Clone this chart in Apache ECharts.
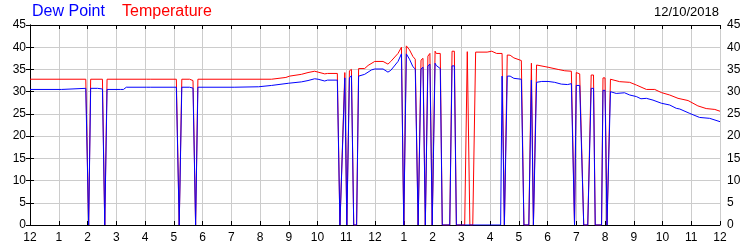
<!DOCTYPE html>
<html>
<head>
<meta charset="utf-8">
<script src="https://cdn.jsdelivr.net/npm/echarts@6/dist/echarts.min.js"></script>
<style>html,body{margin:0;padding:0;background:#fff}#c{width:750px;height:250px}</style>
</head>
<body>
<div id="c"></div>
<script>
// x values are hours after midnight (0..24)
var hourLabels = ['12','1','2','3','4','5','6','7','8','9','10','11','12','1','2','3','4','5','6','7','8','9','10','11','12'];
var yTicks = [0,5,10,15,20,25,30,35,40,45];
var dateText = '12/10/2018';

var temperature = [
[0,32.8],[1.94,32.8],[2.04,0],[2.11,32.8],[2.52,32.8],[2.60,0],[2.68,32.8],[4.05,32.8],[4.1,32.6],[4.2,32.8],
[5.09,32.8],[5.19,0],[5.28,32.8],[5.55,32.8],[5.58,32.5],[5.67,32.5],[5.76,0],[5.84,32.8],[8.4,32.8],[8.45,33.2],
[8.9,33.2],[9.03,33.5],[9.44,33.9],[9.67,34.3],[9.9,34.6],[10.02,34.4],[10.25,34.0],[10.35,34.1],[10.69,34.1],[10.78,0],
[10.95,34.3],[11.02,0],[11.11,34.7],[11.18,35.0],[11.26,0],[11.36,0],[11.43,35.2],[11.64,35.2],[11.76,35.9],[11.99,36.8],
[12.28,36.8],[12.45,36.2],[12.55,36.8],[12.8,38.6],[12.92,40.0],[13.0,0],[13.09,40.3],[13.2,39.4],[13.32,37.9],[13.4,37.3],
[13.5,0],[13.6,37.1],[13.67,37.5],[13.75,0],[13.84,38.0],[13.91,38.6],[13.99,0],[14.09,39.1],[14.13,38.6],[14.27,38.6],
[14.34,0],[14.6,0],[14.68,39.1],[14.76,39.1],[14.83,0],[15.12,0],[15.21,39.0],[15.3,0],[15.4,0],[15.5,38.9],
[15.9,38.9],[16.06,39.1],[16.23,38.6],[16.42,38.6],[16.5,0],[16.6,38.25],[16.7,38.2],[16.83,37.6],[17.09,37.0],[17.18,0],
[17.35,0],[17.44,36.4],[17.51,0],[17.62,36.0],[18.02,35.5],[18.37,35.0],[18.6,34.7],[18.83,34.6],[18.94,0],[19.0,34.3],
[19.12,34.0],[19.26,0],[19.4,0],[19.52,33.75],[19.6,33.75],[19.66,0],[19.88,0],[19.93,33.1],[20.0,33.1],[20.07,0],
[20.19,32.8],[20.51,32.25],[20.86,32.1],[21.09,31.5],[21.44,30.5],[21.73,30.5],[21.96,29.8],[22.25,29.25],[22.54,28.5],[22.89,28.0],
[23.23,26.8],[23.52,26.2],[23.82,26.0],[24,25.6]
];

var dewPoint = [
[0,30.5],[1.1,30.5],[1.15,30.75],[1.94,30.75],[2.04,0],[2.11,30.75],[2.35,30.75],[2.4,30.6],[2.52,30.6],[2.60,0],
[2.68,30.5],[3.15,30.5],[3.2,30.8],[3.25,30.5],[3.3,30.6],[3.35,31.0],[4.05,31.0],[4.1,30.8],[4.2,31.0],[5.09,31.0],
[5.19,0],[5.28,31.0],[5.55,31.0],[5.58,30.8],[5.67,30.8],[5.76,0],[5.84,31.0],[7.1,31.0],[7.15,31.1],[7.95,31.1],
[8.0,31.3],[8.4,31.4],[9.0,31.9],[9.44,32.2],[9.67,32.5],[9.9,32.9],[10.02,32.8],[10.25,32.4],[10.35,32.6],[10.69,32.6],
[10.78,0],[10.95,33.1],[11.02,0],[11.11,33.1],[11.18,33.6],[11.26,0],[11.36,0],[11.43,33.5],[11.64,33.9],[11.88,34.9],
[11.99,35.1],[12.28,35.1],[12.45,34.4],[12.55,34.8],[12.8,36.8],[12.92,38.5],[13.0,0],[13.09,38.5],[13.2,37.3],[13.32,35.6],
[13.4,35.1],[13.5,0],[13.6,35.1],[13.67,35.5],[13.75,0],[13.84,35.8],[13.91,36.2],[13.99,0],[14.09,36.4],[14.13,35.9],
[14.27,35.2],[14.34,0],[14.6,0],[14.68,35.8],[14.76,35.8],[14.83,0],[16.37,0],[16.42,33.5],[16.5,0],[16.6,33.5],
[16.7,33.5],[16.83,33.0],[17.09,32.8],[17.18,0],[17.35,0],[17.44,32.6],[17.51,0],[17.62,32.1],[17.8,32.3],[18.02,32.3],
[18.25,32.1],[18.48,31.7],[18.7,31.6],[18.83,31.8],[18.94,0],[19.0,31.4],[19.12,31.4],[19.26,0],[19.4,0],[19.52,30.75],
[19.6,30.75],[19.66,0],[19.88,0],[19.93,30.3],[20.0,30.3],[20.07,0],[20.19,30.0],[20.39,29.6],[20.68,29.75],[20.86,29.25],
[21.09,28.9],[21.25,28.4],[21.44,28.5],[21.67,28.1],[21.96,27.4],[22.25,27.0],[22.48,26.25],[22.6,26.1],[22.95,25.1],[23.29,24.2],
[23.64,24.0],[24,23.25]
];

var FONT = '"Liberation Sans", Arial, sans-serif';
var chart = echarts.init(document.getElementById('c'), null, {renderer:'canvas'});
var gridColor = '#cccccc';
function yAxis(pos){
  return {
    type:'value', position:pos, min:yTicks[0], max:yTicks[yTicks.length-1], interval:5,
    axisLine:{show:true, lineStyle:{color:'#000', width:1}},
    axisTick:{show:true, inside:true, length:4, lineStyle:{color:'#000'}},
    axisLabel:{show:true, color:'#000', fontSize:12, fontFamily:FONT, margin:(pos==='left'?4:7)},
    splitLine:{show:pos==='left', lineStyle:{color:gridColor, width:1}}
  };
}
function xAxis(pos){
  return {
    type:'value', position:pos, min:0, max:24, interval:1,
    axisLine:{show:true, onZero:false, lineStyle:{color:'#000', width:1}},
    axisTick:{show:true, inside:true, length:4, lineStyle:{color:'#000'}},
    axisLabel:{show:pos==='bottom', color:'#000', fontSize:12, fontFamily:FONT, margin:7,
      formatter:function(v){ return hourLabels[Math.round(v)]; }},
    splitLine:{show:pos==='bottom', lineStyle:{color:gridColor, width:1}}
  };
}
chart.setOption({
  animation:false,
  backgroundColor:'#fff',
  title:[
    {text:'Dew Point', left:32, top:4, padding:0, textStyle:{color:'#0000ff', fontSize:16, fontWeight:'normal', fontFamily:FONT}},
    {text:'Temperature', left:122, top:4, padding:0, textStyle:{color:'#ff0000', fontSize:16, fontWeight:'normal', fontFamily:FONT}},
    {text:dateText, right:31, top:6, padding:0, textStyle:{color:'#000', fontSize:13, fontWeight:'normal', fontFamily:FONT}}
  ],
  grid:{left:30, right:30, top:25, bottom:25, show:false},
  xAxis:[xAxis('bottom'), xAxis('top')],
  yAxis:[yAxis('left'), yAxis('right')],
  series:[
    {name:'Temperature', type:'line', data:temperature, showSymbol:false, symbol:'none',
     lineStyle:{color:'#ff0000', width:1}, itemStyle:{color:'#ff0000'}, z:2},
    {name:'Dew Point', type:'line', data:dewPoint, showSymbol:false, symbol:'none',
     lineStyle:{color:'#0000ff', width:1}, itemStyle:{color:'#0000ff'}, z:3}
  ]
});
</script>
</body>
</html>
